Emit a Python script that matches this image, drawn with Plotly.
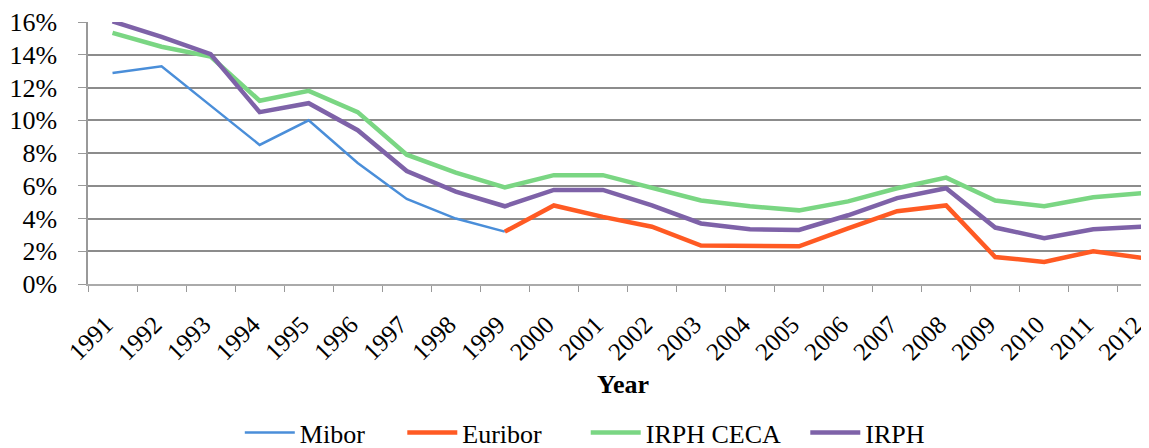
import plotly.graph_objects as go

# Data
years = [str(y) for y in range(1991, 2013)]
mibor = [0.129, 0.133, 0.109, 0.085, 0.100, 0.074, 0.052, 0.040, 0.032,
         None, None, None, None, None, None, None, None, None, None, None, None, None]
euribor = [None, None, None, None, None, None, None, None, 0.032,
           0.048, 0.041, 0.035, 0.0235, 0.023, 0.023, 0.034, 0.0445, 0.048, 0.0165, 0.0135, 0.020, 0.016]
irph_ceca = [0.1535, 0.145, 0.139, 0.112, 0.118, 0.105, 0.079, 0.068, 0.059,
             0.0665, 0.0665, 0.059, 0.051, 0.0475, 0.045, 0.0505, 0.0585, 0.065, 0.051, 0.0475, 0.053, 0.0555]
irph = [0.1605, 0.151, 0.1405, 0.105, 0.1105, 0.094, 0.069, 0.0565, 0.0475,
        0.0575, 0.0575, 0.048, 0.037, 0.0335, 0.033, 0.042, 0.0525, 0.0585, 0.0345, 0.028, 0.0335, 0.035]

font_family = "Liberation Serif, DejaVu Serif, serif"
nb = "\u00a0"  # non-breaking space, used to space out legend entries

fig = go.Figure()
fig.add_trace(go.Scatter(x=years, y=mibor, name="Mibor" + nb * 5, mode="lines",
                         line=dict(color="#4A8ED9", width=2.5)))
fig.add_trace(go.Scatter(x=years, y=euribor, name="Euribor" + nb * 6, mode="lines",
                         line=dict(color="#FF5A23", width=4.5)))
fig.add_trace(go.Scatter(x=years, y=irph_ceca, name="IRPH CECA" + nb * 3, mode="lines",
                         line=dict(color="#7AD683", width=4.5)))
fig.add_trace(go.Scatter(x=years, y=irph, name="IRPH", mode="lines",
                         line=dict(color="#7E62A8", width=4.5)))

fig.update_layout(
    width=1149, height=448,
    margin=dict(l=80, r=0, t=14, b=163),
    paper_bgcolor="white", plot_bgcolor="white",
    font=dict(family=font_family, size=26, color="black"),
    showlegend=True,
    legend=dict(orientation="h", x=0.142, xanchor="left", xref="paper",
                y=-0.567, yanchor="middle", font=dict(family=font_family, size=26),
                itemwidth=50, tracegroupgap=0),
)
# axis title placed as an annotation so it sits a bit lower, like the original
fig.add_annotation(text="<b>Year</b>", xref="paper", yref="paper",
                   x=0.5, y=-0.385, xanchor="center", yanchor="middle",
                   showarrow=False, font=dict(family=font_family, size=26))
fig.update_xaxes(
    type="category", range=[-0.5, 21.3], automargin=False,
    tickangle=-45, tickfont=dict(family=font_family, size=25),
    ticklabelstandoff=14, ticklabelshift=-7,
    showline=True, linecolor="#aaaaaa", linewidth=2,
    ticks="outside", tickson="boundaries", ticklen=6, tickcolor="#999999",
    showgrid=False,
)
fig.update_yaxes(
    range=[0, 0.1601], tickvals=[0, 0.02, 0.04, 0.06, 0.08, 0.10, 0.12, 0.14, 0.16],
    tickformat=".0%", automargin=False,
    tickfont=dict(family=font_family, size=26),
    ticklabelstandoff=16,
    showline=True, linecolor="#999999", linewidth=1.5,
    ticks="outside", ticklen=8, tickcolor="#999999",
    showgrid=True, gridcolor="#8c8c8c", gridwidth=1.5,
    zeroline=False,
)

fig.write_html("out.html")
